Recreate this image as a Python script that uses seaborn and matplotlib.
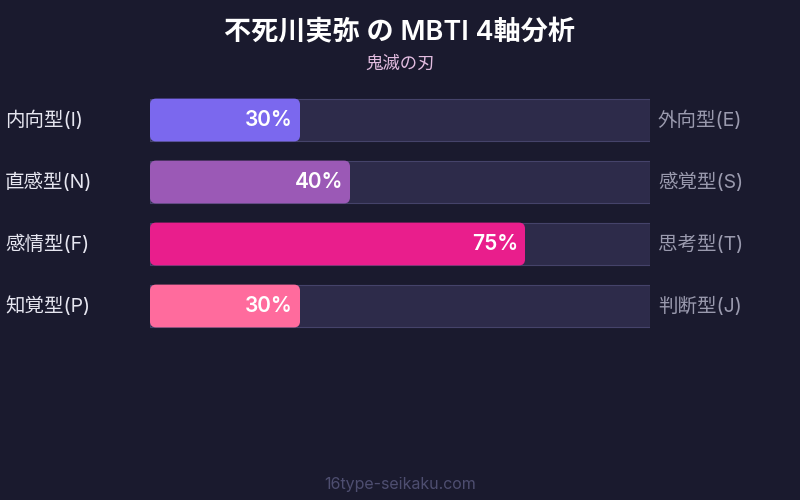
import numpy as np
import pandas as pd
import matplotlib
matplotlib.use("Agg")
import matplotlib.pyplot as plt
import matplotlib.transforms as mtransforms
from matplotlib.patches import FancyBboxPatch
import seaborn as sns

# data
left_labels = ["内向型(I)", "直感型(N)", "感情型(F)", "知覚型(P)"]
right_labels = ["外向型(E)", "感覚型(S)", "思考型(T)", "判断型(J)"]
values = [30, 40, 75, 30]
bar_colors = ["#7b68ee", "#9b59b6", "#e91e8c", "#ff6b9d"]
title = "不死川実弥 の MBTI 4軸分析"
subtitle = "鬼滅の刃"
footer = "16type-seikaku.com"

bg = "#1a1a2e"
track_color = "#2d2b4a"
track_edge = "#45436a"

sns.set_theme(style="white")
plt.rcParams["font.family"] = ["Inter", "Noto Sans CJK JP", "DejaVu Sans"]

df = pd.DataFrame({"axis": left_labels, "value": values, "full": [100] * len(values)})

fig = plt.figure(figsize=(8, 5), dpi=100, facecolor=bg)
ax = fig.add_axes([0.1875, 0.326, 0.625, 0.496])
ax.set_facecolor(bg)

# background tracks
sns.barplot(data=df, x="full", y="axis", orient="h", color=track_color,
            width=0.69, ax=ax, saturation=1)
for p in ax.patches:
    p.set_edgecolor(track_edge)
    p.set_linewidth(0.8)
n_track = len(ax.patches)

# value bars
sns.barplot(data=df, x="value", y="axis", hue="axis", palette=bar_colors, orient="h",
            width=0.69, ax=ax, saturation=1, legend=False)

ax.set_xlim(0, 100)
ax.set_ylim(3.5, -0.5)

# round the corners of the value bars
r = 1.2
aspect = (1 / 62) / (100 / 500)
for p in list(ax.patches[n_track:]):
    x0, y0, w, h = p.get_x(), p.get_y(), p.get_width(), p.get_height()
    fc = p.get_facecolor()
    p.remove()
    rb = FancyBboxPatch((x0, y0), w, h, boxstyle=f"round,pad=0,rounding_size={r}",
                        mutation_aspect=aspect, facecolor=fc, edgecolor="none", zorder=3)
    ax.add_patch(rb)

for i, v in enumerate(values):
    ax.text(v - 1.4, i, f"{v}%", ha="right", va="center", color="white",
            fontsize=15, fontweight="semibold", zorder=4)

trans = mtransforms.blended_transform_factory(fig.transFigure, ax.transData)
for i, (ll, rl) in enumerate(zip(left_labels, right_labels)):
    ax.text(5 / 800, i, ll, transform=trans, ha="left", va="center",
            color="#e6e6f0", fontsize=14)
    ax.text(658 / 800, i, rl, transform=trans, ha="left", va="center",
            color="#9a9aae", fontsize=14)

ax.set_xlabel("")
ax.set_ylabel("")
ax.set_xticks([])
ax.set_yticks([])
for s in ax.spines.values():
    s.set_visible(False)

fig.text(0.5, 1 - 33 / 500, title, ha="center", va="center", color="white",
         fontsize=19.5, fontweight="semibold")
fig.text(0.5, 1 - 64 / 500, subtitle, ha="center", va="center", color="#e2bce0",
         fontsize=12.5)
fig.text(0.5, 1 - 484 / 500, footer, ha="center", va="center", color="#4e4e70",
         fontsize=11.5)

fig.savefig("out.png", dpi=100, facecolor=bg)
